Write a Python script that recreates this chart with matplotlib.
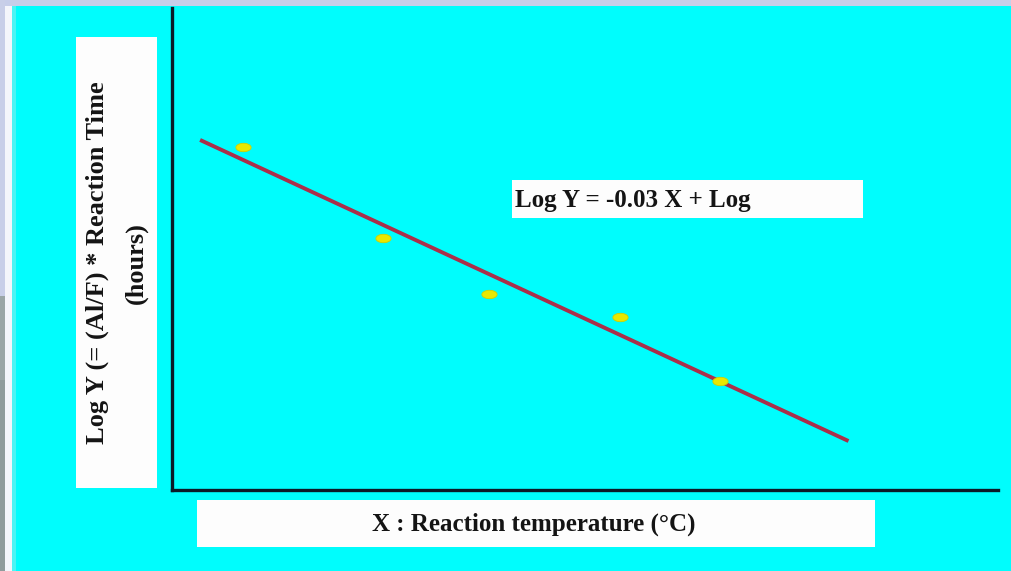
import numpy as np
import matplotlib
matplotlib.use("Agg")
import matplotlib.pyplot as plt
from matplotlib.patches import Rectangle
from matplotlib.path import Path

# ---- data ----
temperature = [8.6, 25.6, 38.4, 54.2, 66.3]
log_y = [2.68, 1.97, 1.53, 1.35, 0.85]
fit_slope = -0.03
fit_intercept = 2.84
fit_x_range = [3.4, 81.9]

y_label_line1 = "Log Y (= (Al/F) * Reaction Time"
y_label_line2 = "(hours)"
x_label = "X : Reaction temperature (°C)"
equation = "Log Y = -0.03 X + Log"

W, H = 1011, 571
fig = plt.figure(figsize=(W / 100, H / 100), dpi=100)
fig.patch.set_facecolor("#00fdfd")

def fx(px):
    return px / W

def fy(py):
    return 1 - py / H

def frect(x0, y0, x1, y1, color, z=0, alpha=1.0):
    r = Rectangle((fx(x0), fy(y1)), fx(x1) - fx(x0), fy(y0) - fy(y1),
                  transform=fig.transFigure, facecolor=color, edgecolor="none",
                  zorder=z, alpha=alpha)
    fig.patches.append(r)

# frame strips
frect(0, 0, W, 6, "#c6cee9")
frect(0, 0, 5, 296, "#c8cfe8")
frect(0, 296, 5, H, "#9aa6a6")
frect(0, 380, 5, H, "#8f9c9c")
frect(5, 6, 12, H, "#f4f6fb")
frect(12, 6, 16, H, "#7feeee", alpha=0.6)

# white label boxes
frect(76, 37, 157, 488, "#fdfdfd", z=1)
frect(197, 500, 875, 547, "#fdfdfd", z=1)
frect(512, 180, 863, 218, "#fdfdfd", z=1)

serif = ["Liberation Serif", "DejaVu Serif"]

ax = fig.add_axes([fx(172), fy(490), fx(998) - fx(172), fy(8) - fy(490)])
ax.set_facecolor("none")
ax.set_xlim(0, 100)
ax.set_ylim(0, 3.77)
for s in ["top", "right"]:
    ax.spines[s].set_visible(False)
for s in ["left", "bottom"]:
    ax.spines[s].set_linewidth(2.4)
    ax.spines[s].set_color("#0b1a28")
ax.set_xticks([])
ax.set_yticks([])

fx_line = np.array(fit_x_range)
ax.plot(fx_line, fit_slope * fx_line + fit_intercept, color="#aa2f4a",
        linewidth=2.8, solid_capstyle="butt", zorder=3)

t = np.linspace(0, 2 * np.pi, 40)
ell = Path(np.column_stack([np.cos(t), 0.55 * np.sin(t)]), closed=True)
ax.plot(temperature, log_y, linestyle="none", marker=ell, markersize=11,
        markerfacecolor="#e9e800", markeredgecolor="#cfd000",
        markeredgewidth=0.6, zorder=4)

# texts
fig.text(fx(515), fy(200), equation, family=serif, weight="bold", fontsize=18,
         ha="left", va="center", color="#141414", zorder=5)
fig.text(fx(534), fy(524), x_label, family=serif, weight="bold", fontsize=18,
         ha="center", va="center", color="#141414", zorder=5)
fig.text(fx(97), fy(263), y_label_line1, family=serif, weight="bold", fontsize=19,
         ha="center", va="center", rotation=90, color="#141414", zorder=5)
fig.text(fx(136), fy(263), y_label_line2, family=serif, weight="bold", fontsize=19,
         ha="center", va="center", rotation=90, color="#141414", zorder=5)

fig.savefig("out.png", dpi=100, facecolor=fig.get_facecolor())
